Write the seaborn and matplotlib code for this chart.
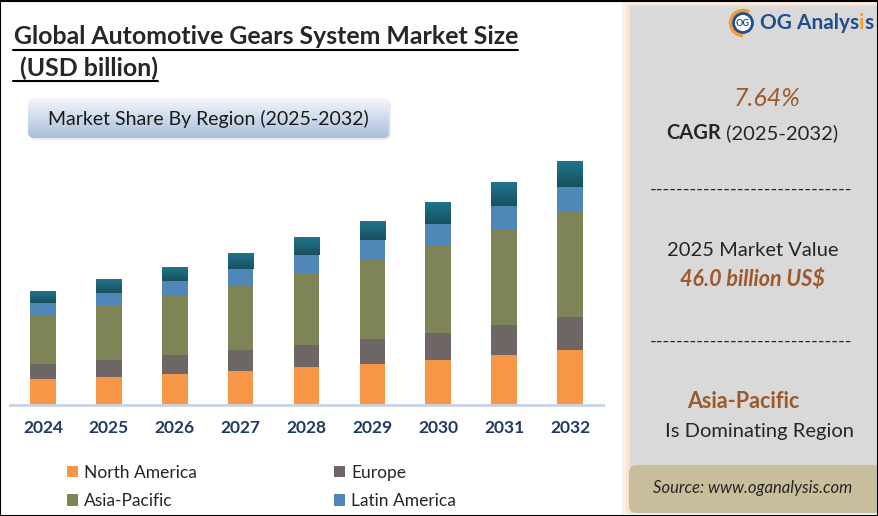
import numpy as np
import pandas as pd
import matplotlib
matplotlib.use("Agg")
import matplotlib.pyplot as plt
import seaborn as sns
from matplotlib.patches import Rectangle, FancyBboxPatch, Circle, Arc, Patch

# chart data (USD billion)
years = ["2024", "2025", "2026", "2027", "2028", "2029", "2030", "2031", "2032"]
north_america = [9.3, 10.0, 11.1, 12.2, 13.7, 14.8, 16.3, 18.1, 19.9]
europe = [5.5, 6.3, 7.0, 7.7, 8.1, 9.2, 9.9, 11.0, 12.1]
asia_pacific = [18.0, 19.8, 21.7, 23.9, 26.3, 29.0, 31.9, 34.9, 38.5]
latin_america = [4.4, 4.8, 5.5, 5.9, 6.7, 7.3, 8.1, 8.8, 9.5]
middle_east_africa = [4.4, 5.1, 5.1, 5.9, 6.6, 7.0, 8.1, 8.8, 9.5]

regions = ["North America", "Europe", "Asia-Pacific", "Latin America", "Middle East & Africa"]
colors = ["#F79646", "#6E6565", "#7F8456", "#5087B9", "#1C6378"]

title = "Global Automotive Gears System Market Size"
subtitle = "Market Share By Region (2025-2032)"
cagr = "7.64%"
market_value = "46.0 billion US$"
leading_region = "Asia-Pacific"

W, H = 879, 516
BROWN = "#9C5A2A"
NAVY = "#1F3864"

sns.set_style("white")
plt.rcParams["font.family"] = ["Lato", "DejaVu Sans"]

fig = plt.figure(figsize=(W / 100, H / 100), dpi=100)
fig.patch.set_facecolor("white")

# overlay axes in pixel coordinates for the decorations
over = fig.add_axes([0, 0, 1, 1], zorder=0)
over.set_xlim(0, W)
over.set_ylim(H, 0)
over.axis("off")

renderer = fig.canvas.get_renderer()


def put(x, y, s, size, fit=None, **kw):
    t = over.text(x, y, s, fontsize=size, **kw)
    if fit is not None:
        w = t.get_window_extent(renderer=renderer).width
        t.set_fontsize(size * fit / w)
    return t


def width(t):
    return t.get_window_extent(renderer=renderer).width


def vgrad(c_top, c_bot, n=64):
    a = np.array(matplotlib.colors.to_rgb(c_top))
    b = np.array(matplotlib.colors.to_rgb(c_bot))
    g = np.linspace(0, 1, n)[:, None, None]
    return (a * (1 - g) + b * g) * np.ones((1, 2, 1))


# stacked bars: draw cumulative totals from the top layer down
ax = fig.add_axes([10 / W, (H - 404.5) / H, 593 / W, 254.5 / H], zorder=2)
ax.patch.set_alpha(0)
df = pd.DataFrame({"year": years, "North America": north_america, "Europe": europe,
                   "Asia-Pacific": asia_pacific, "Latin America": latin_america,
                   "Middle East & Africa": middle_east_africa})
cum = df[regions].cumsum(axis=1)
for reg, col in zip(regions[::-1], colors[::-1]):
    sns.barplot(x=df["year"], y=cum[reg], color=col, saturation=1, width=0.39,
                linewidth=0, ax=ax)

ymax = 254.5 * 46.0 / 125.3
# teal gradient on the top segment
top_bars = ax.containers[0]
below = cum["Latin America"].to_numpy()
for p, b in zip(top_bars.patches, below):
    x0, w, h = p.get_x(), p.get_width(), p.get_height()
    im = ax.imshow(vgrad("#1F768E", "#19505F"), extent=(x0, x0 + w, b, h),
                   aspect="auto", origin="upper", zorder=3)
    im.set_clip_path(p)

ax.set_xlim(-0.5, 8.5)
ax.set_ylim(0, ymax)
ax.set_xlabel("")
ax.set_ylabel("")
ax.set_yticks([])
for s in ["left", "right", "top"]:
    ax.spines[s].set_visible(False)
ax.spines["bottom"].set_color("#C9D3E6")
ax.spines["bottom"].set_linewidth(2)
ax.tick_params(axis="x", length=0, pad=11.5, labelsize=12.5, labelcolor=NAVY)
for lab in ax.get_xticklabels():
    lab.set_fontweight("bold")

# legend (4 regions shown in the reference), filled column by column
order = [0, 2, 1, 3]
handles = [Patch(facecolor=colors[i], edgecolor="none") for i in order]
labels = [regions[i] for i in order]
fig.legend(handles, labels, loc="upper left", bbox_to_anchor=(51 / W, 1 - 449 / H),
           ncol=2, frameon=False, fontsize=12.5, handlelength=0.65, handleheight=0.65,
           handletextpad=0.35, columnspacing=7.9, labelspacing=0.72)

# title with underline
t1 = put(14, 37, title, 17, fit=505, fontweight="bold", va="center", ha="left")
t2 = put(14, 68, " (USD billion)", t1.get_fontsize(), fontweight="bold", va="center", ha="left")
over.plot([13, 14 + width(t1)], [50, 50], color="black", lw=1.5)
over.plot([13, 14 + width(t2)], [81, 81], color="black", lw=1.5)

# subtitle box with vertical gradient
shadow = FancyBboxPatch((30, 100), 361, 40, boxstyle="round,pad=0,rounding_size=6",
                        facecolor="#DCDCDC", edgecolor="none", alpha=0.6)
over.add_patch(shadow)
box = FancyBboxPatch((28, 98), 361, 40, boxstyle="round,pad=0,rounding_size=6",
                     facecolor="none", edgecolor="none")
over.add_patch(box)
im = over.imshow(vgrad("#F3F6FA", "#AABFDC"), extent=(28, 389, 138, 98), aspect="auto",
                 zorder=1)
im.set_clip_path(box)
put(208, 119, subtitle, 14, color="#1A1A1A", ha="center", va="center", zorder=3)
over.set_xlim(0, W)
over.set_ylim(H, 0)

# right panel
over.add_patch(Rectangle((622, 2), 257, 512, facecolor="#FDF0E6", edgecolor="none"))
over.add_patch(Rectangle((626, 4), 253, 510, facecolor="#FBE3D2", edgecolor="none"))
over.add_patch(Rectangle((630, 6), 249, 507, facecolor="#D9D9D9", edgecolor="none"))

# logo
over.add_patch(Arc((743, 23), 25, 25, theta1=90, theta2=300, color="#F39C34", lw=2.5))
over.add_patch(Circle((743, 23), 9.5, facecolor="white", edgecolor="#1F4E8C", lw=2))
put(743, 23.5, "OG", 6.5, color="#1F4E8C", fontweight="bold", ha="center", va="center")
la = put(760, 23, "OG Analys", 15, color="#1F4E8C", fontweight="bold", va="center", ha="left")
li = put(760 + width(la), 23, "i", la.get_fontsize(), color="#F39C34", fontweight="bold",
         va="center", ha="left")
put(760 + width(la) + width(li), 23, "s", la.get_fontsize(), color="#1F4E8C",
    fontweight="bold", va="center", ha="left")

put(767, 98, cagr, 18, color=BROWN, style="italic", ha="center", va="center")
c1 = put(0, 133, "CAGR", 14.5, fontweight="bold", va="center", ha="left")
c2 = put(0, 133, " (2025-2032)", 14.5, va="center", ha="left")
x0 = 752 - (width(c1) + width(c2)) / 2
c1.set_x(x0)
c2.set_x(x0 + width(c1))

dash = "-" * 30
put(751, 190, dash, 14, fit=208, ha="center", va="center")
put(753, 250, "2025 Market Value", 14.5, ha="center", va="center")
put(752, 279, market_value, 15.5, color=BROWN, fontweight="bold", style="italic",
    ha="center", va="center")
put(751, 342, dash, 14, fit=208, ha="center", va="center")
put(743, 401, leading_region, 15.5, color=BROWN, fontweight="bold", ha="center", va="center")
put(760, 431, "Is Dominating Region", 14.5, ha="center", va="center")

over.add_patch(FancyBboxPatch((629, 465), 252, 48, boxstyle="round,pad=0,rounding_size=8",
                              facecolor="#C9BE9B", edgecolor="none"))
put(753, 488, "Source: www.oganalysis.com", 12, style="italic", ha="center", va="center")

# outer frame
over.add_patch(Rectangle((0.5, 0.5), W - 1, H - 1, facecolor="none", edgecolor="black",
                         lw=1.5, zorder=10))

fig.savefig("out.png", dpi=100)
